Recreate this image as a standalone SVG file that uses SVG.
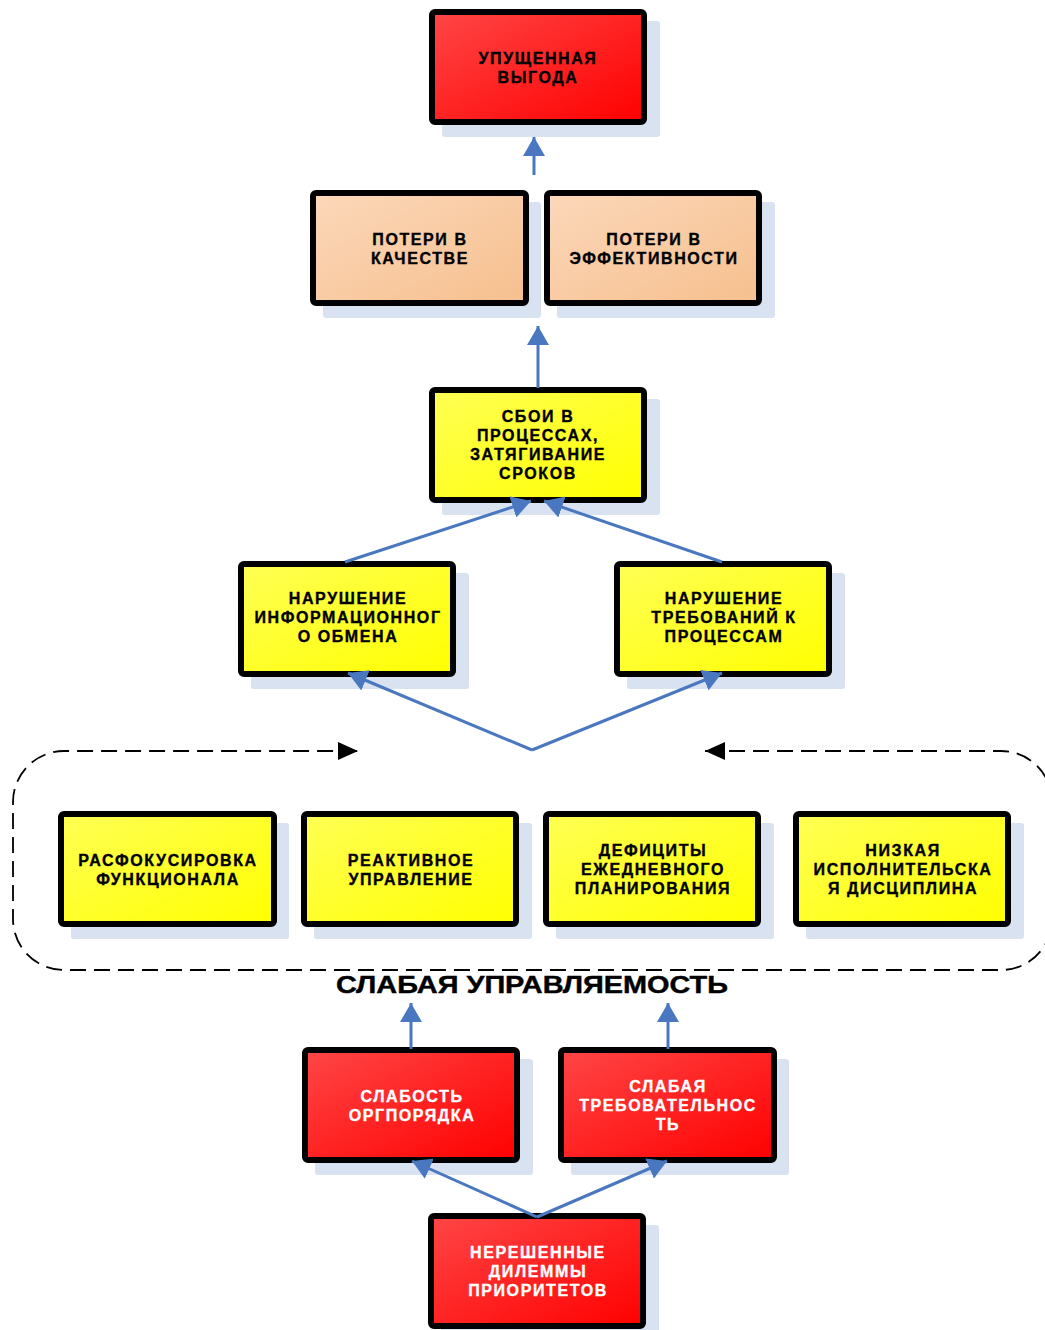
<svg xmlns="http://www.w3.org/2000/svg" width="1045" height="1330" viewBox="0 0 1045 1330">
<defs>
<linearGradient id="gRed" x1="0" y1="0" x2="1" y2="1">
<stop offset="0" stop-color="#ff4646"/><stop offset="1" stop-color="#ff0000"/>
</linearGradient>
<linearGradient id="gYel" x1="0" y1="0" x2="1" y2="1">
<stop offset="0" stop-color="#ffff55"/><stop offset="1" stop-color="#ffff00"/>
</linearGradient>
<linearGradient id="gPeach" x1="0" y1="0" x2="1" y2="1">
<stop offset="0" stop-color="#fcd8ba"/><stop offset="1" stop-color="#f6bf8e"/>
</linearGradient>
<marker id="blueArrow" markerUnits="userSpaceOnUse" markerWidth="19" markerHeight="22" viewBox="0 0 19 22" refX="19" refY="11" orient="auto">
<path d="M0,0 L19,11 L0,22 z" fill="#4a78c0"/>
</marker>
<marker id="blackArrow" markerUnits="userSpaceOnUse" markerWidth="20" markerHeight="18" viewBox="0 0 20 18" refX="20" refY="9" orient="auto-start-reverse">
<path d="M0,0 L20,9 L0,18 z" fill="#000"/>
</marker>
</defs>
<style>
.sh{fill:#d9e2f1}
.box{stroke:#000;stroke-width:6}
.red{fill:url(#gRed)}
.yel{fill:url(#gYel)}
.peach{fill:url(#gPeach)}
.t{font-family:"Liberation Sans",Arial,sans-serif;font-weight:bold;font-size:16px;letter-spacing:1.6px;text-anchor:middle;fill:#000;stroke:#000;stroke-width:0.35}
.tw{fill:#fff;stroke:#fff}
.con{fill:none;stroke:#4a78c0;stroke-width:3}
.dash{fill:none;stroke:#000;stroke-width:1.8;stroke-dasharray:16 8}
.title{font-family:"Liberation Sans",Arial,sans-serif;font-weight:bold;font-size:23px;text-anchor:middle;fill:#000;stroke:#000;stroke-width:0.4}
</style>
<rect width="1045" height="1330" fill="#fff"/>

<g id="n-upushchennaya">
<rect class="sh" x="442" y="21" width="218" height="116" rx="3"/>
<rect class="box red" x="432" y="12" width="212" height="110" rx="3"/>
<text class="t" x="538" y="63.5">УПУЩЕННАЯ</text>
<text class="t" x="538" y="82.5">ВЫГОДА</text>
</g>

<g id="n-poteri-kachestvo">
<rect class="sh" x="323" y="202" width="218" height="116" rx="3"/>
<rect class="box peach" x="313" y="193" width="213" height="110" rx="3"/>
<text class="t" x="420" y="244.5">ПОТЕРИ В</text>
<text class="t" x="420" y="263.5">КАЧЕСТВЕ</text>
</g>

<g id="n-poteri-effekt">
<rect class="sh" x="557" y="202" width="218" height="116" rx="3"/>
<rect class="box peach" x="547" y="193" width="212" height="110" rx="3"/>
<text class="t" x="654" y="244.5">ПОТЕРИ В</text>
<text class="t" x="654" y="263.5">ЭФФЕКТИВНОСТИ</text>
</g>

<g id="n-sboi">
<rect class="sh" x="442" y="399" width="218" height="116" rx="3"/>
<rect class="box yel" x="432" y="390" width="212" height="110" rx="3"/>
<text class="t" x="538" y="421.5">СБОИ В</text>
<text class="t" x="538" y="440.5">ПРОЦЕССАХ,</text>
<text class="t" x="538" y="459.5">ЗАТЯГИВАНИЕ</text>
<text class="t" x="538" y="478.5">СРОКОВ</text>
</g>

<g id="n-info">
<rect class="sh" x="251" y="573" width="218" height="116" rx="3"/>
<rect class="box yel" x="241" y="564" width="212" height="110" rx="3"/>
<text class="t" x="348" y="604">НАРУШЕНИЕ</text>
<text class="t" x="348" y="623">ИНФОРМАЦИОННОГ</text>
<text class="t" x="348" y="642">О ОБМЕНА</text>
</g>

<g id="n-trebovaniya">
<rect class="sh" x="627" y="573" width="218" height="116" rx="3"/>
<rect class="box yel" x="617" y="564" width="212" height="110" rx="3"/>
<text class="t" x="724" y="604">НАРУШЕНИЕ</text>
<text class="t" x="724" y="623">ТРЕБОВАНИЙ К</text>
<text class="t" x="724" y="642">ПРОЦЕССАМ</text>
</g>

<g id="n-rasfokus">
<rect class="sh" x="71" y="823" width="218" height="116" rx="3"/>
<rect class="box yel" x="61" y="814" width="213" height="110" rx="3"/>
<text class="t" x="168" y="865.5">РАСФОКУСИРОВКА</text>
<text class="t" x="168" y="884.5">ФУНКЦИОНАЛА</text>
</g>

<g id="n-reaktiv">
<rect class="sh" x="314" y="823" width="218" height="116" rx="3"/>
<rect class="box yel" x="304" y="814" width="212" height="110" rx="3"/>
<text class="t" x="411" y="865.5">РЕАКТИВНОЕ</text>
<text class="t" x="411" y="884.5">УПРАВЛЕНИЕ</text>
</g>

<g id="n-deficit">
<rect class="sh" x="556" y="823" width="218" height="116" rx="3"/>
<rect class="box yel" x="546" y="814" width="212" height="110" rx="3"/>
<text class="t" x="653" y="856">ДЕФИЦИТЫ</text>
<text class="t" x="653" y="875">ЕЖЕДНЕВНОГО</text>
<text class="t" x="653" y="894">ПЛАНИРОВАНИЯ</text>
</g>

<g id="n-nizkaya">
<rect class="sh" x="806" y="823" width="218" height="116" rx="3"/>
<rect class="box yel" x="796" y="814" width="212" height="110" rx="3"/>
<text class="t" x="903" y="856">НИЗКАЯ</text>
<text class="t" x="903" y="875">ИСПОЛНИТЕЛЬСКА</text>
<text class="t" x="903" y="894">Я ДИСЦИПЛИНА</text>
</g>

<g id="n-title">
<text class="title" x="532" y="993" textLength="392" lengthAdjust="spacingAndGlyphs">СЛАБАЯ УПРАВЛЯЕМОСТЬ</text>
</g>

<g id="n-slabost">
<rect class="sh" x="315" y="1059" width="218" height="116" rx="3"/>
<rect class="box red" x="305" y="1050" width="212" height="110" rx="3"/>
<text class="t tw" x="412" y="1101.5">СЛАБОСТЬ</text>
<text class="t tw" x="412" y="1120.5">ОРГПОРЯДКА</text>
</g>

<g id="n-trebovatelnost">
<rect class="sh" x="571" y="1059" width="218" height="116" rx="3"/>
<rect class="box red" x="561" y="1050" width="213" height="110" rx="3"/>
<text class="t tw" x="668" y="1092">СЛАБАЯ</text>
<text class="t tw" x="668" y="1111">ТРЕБОВАТЕЛЬНОС</text>
<text class="t tw" x="668" y="1130">ТЬ</text>
</g>

<g id="n-dilemmy">
<rect class="sh" x="441" y="1225" width="218" height="116" rx="3"/>
<rect class="box red" x="431" y="1216" width="212" height="110" rx="3"/>
<text class="t tw" x="538" y="1258">НЕРЕШЕННЫЕ</text>
<text class="t tw" x="538" y="1277">ДИЛЕММЫ</text>
<text class="t tw" x="538" y="1296">ПРИОРИТЕТОВ</text>
</g>

<g id="connectors">
<path class="con" d="M534,175 L534,137" marker-end="url(#blueArrow)"/>
<path class="con" d="M538,388 L538,326" marker-end="url(#blueArrow)"/>
<path class="con" d="M345,562 L531,501" marker-end="url(#blueArrow)"/>
<path class="con" d="M722,562 L544,501" marker-end="url(#blueArrow)"/>
<path class="con" d="M532,750 L348,673" marker-end="url(#blueArrow)"/>
<path class="con" d="M532,750 L722,673" marker-end="url(#blueArrow)"/>
<path class="con" d="M411,1049 L411,1003" marker-end="url(#blueArrow)"/>
<path class="con" d="M668,1049 L668,1003" marker-end="url(#blueArrow)"/>
<path class="con" d="M537,1217 L412,1161" marker-end="url(#blueArrow)"/>
<path class="con" d="M537,1217 L667,1161" marker-end="url(#blueArrow)"/>
<path class="dash" d="M705,751 H1001 A51,51 0 0 1 1052,802 V919 A51,51 0 0 1 1001,970 H64 A51,51 0 0 1 13,919 V802 A51,51 0 0 1 64,751 H358" marker-start="url(#blackArrow)" marker-end="url(#blackArrow)"/>
</g>
</svg>
